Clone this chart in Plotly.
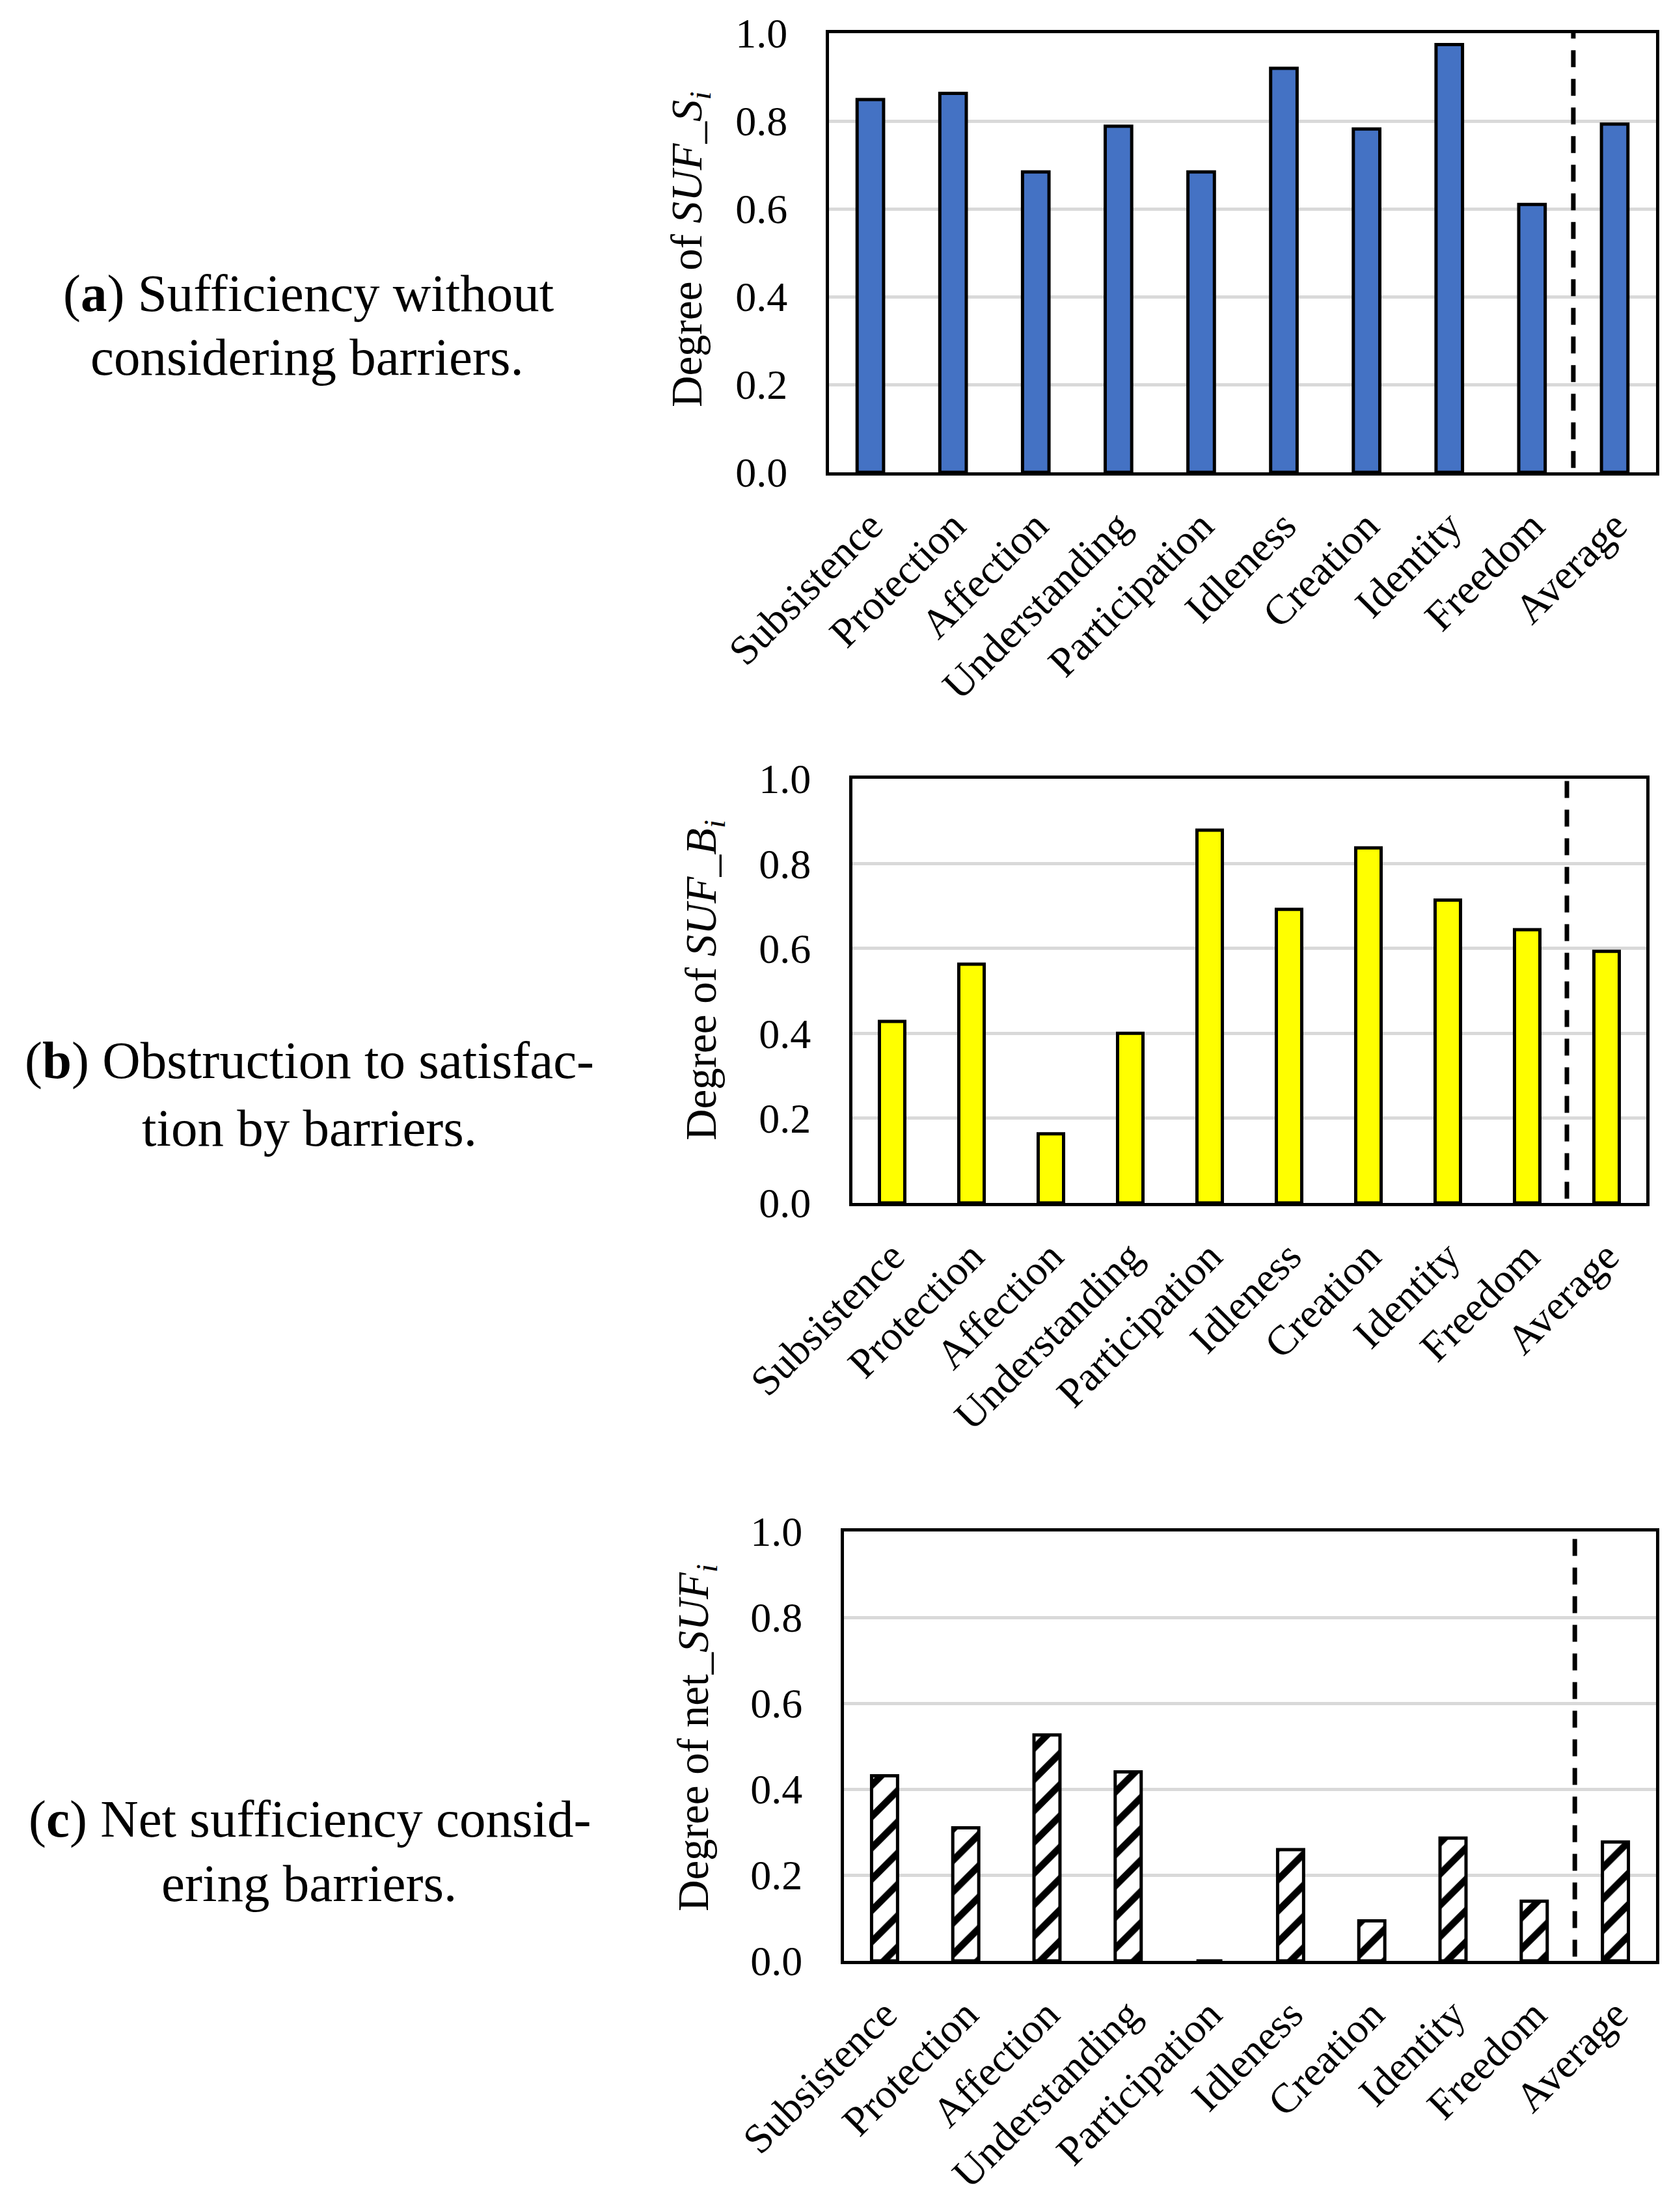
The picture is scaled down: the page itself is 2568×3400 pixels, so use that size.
import plotly.graph_objects as go

categories = ["Subsistence", "Protection", "Affection", "Understanding", "Participation",
              "Idleness", "Creation", "Identity", "Freedom", "Average"]
suf_s = [0.849, 0.863, 0.684, 0.788, 0.684, 0.920, 0.782, 0.974, 0.610, 0.793]
suf_b = [0.428, 0.563, 0.163, 0.400, 0.879, 0.692, 0.837, 0.714, 0.644, 0.593]
net_suf = [0.431, 0.310, 0.526, 0.440, 0.0, 0.259, 0.093, 0.286, 0.139, 0.277]
y_ticks = [0.0, 0.2, 0.4, 0.6, 0.8, 1.0]

FONT = "Liberation Serif"
W, H = 2568, 3400

fig = go.Figure()
fig.add_trace(go.Bar(x=categories, y=suf_s, xaxis="x", yaxis="y", width=0.32,
                     marker=dict(color="#4472C4", line=dict(color="black", width=5))))
fig.add_trace(go.Bar(x=categories, y=suf_b, xaxis="x2", yaxis="y2", width=0.32,
                     marker=dict(color="#FFFF00", line=dict(color="black", width=5))))
fig.add_trace(go.Bar(x=categories, y=net_suf, xaxis="x3", yaxis="y3", width=0.32,
                     marker=dict(color="white", line=dict(color="black", width=5),
                                 pattern=dict(shape="/", fgcolor="black", bgcolor="white",
                                              fgopacity=1, size=34, solidity=0.31))))

def xa(domain, anchor):
    return dict(domain=domain, anchor=anchor, showline=True, mirror=True, linecolor="black",
                linewidth=5, showgrid=False, zeroline=False, ticks="", tickangle=-45,
                automargin=False,
                tickfont=dict(family=FONT, size=64, color="black"), ticklabelstandoff=14,
                categoryorder="array", categoryarray=categories)

def ya(domain, anchor):
    return dict(domain=domain, anchor=anchor, range=[0, 1], tickvals=y_ticks,
                ticktext=["%.1f" % v for v in y_ticks], showline=True, mirror=True,
                linecolor="black", linewidth=5, showgrid=True, gridcolor="#D9D9D9",
                gridwidth=5, zeroline=False, ticks="", ticklabelstandoff=46,
                automargin=False,
                tickfont=dict(family=FONT, size=64, color="black"))

fig.update_layout(
    template="none",
    width=W, height=H, autosize=False, showlegend=False,
    paper_bgcolor="white", plot_bgcolor="white",
    margin=dict(l=0, r=0, t=0, b=0, pad=0),
    font=dict(family=FONT, color="black"),
    xaxis=xa([1266 / W, 2537 / W], "y"),
    yaxis=ya([1 - 718 / H, 1 - 43 / H], "x"),
    xaxis2=xa([1302 / W, 2522 / W], "y2"),
    yaxis2=ya([1 - 1841 / H, 1 - 1189 / H], "x2"),
    xaxis3=xa([1289 / W, 2537 / W], "y3"),
    yaxis3=ya([1 - 3006 / H, 1 - 2346 / H], "x3"),
)

# dashed separators before "Average"
for xr, yr in [("x", "y"), ("x2", "y2"), ("x3", "y3")]:
    fig.add_shape(type="line", xref=xr, yref=yr, x0=8.5, x1=8.5, y0=0.01, y1=1.0,
                  line=dict(color="black", width=7, dash="26px,18px"), layer="above")

titles = [
    ("Degree of <i>SUF_S</i><sub><i>i</i></sub>", 1052, 375),
    ("Degree of <i>SUF_B</i><sub><i>i</i></sub>", 1074, 1499),
    ("Degree of net_<i>SUF</i><sub><i>i</i></sub>", 1062, 2663),
]
for txt, xo, yo in titles:
    fig.add_annotation(text=txt, xref="paper", yref="paper", x=xo / W, y=1 - yo / H,
                       xanchor="center", yanchor="middle", textangle=-90, showarrow=False,
                       font=dict(family=FONT, size=67, color="black"))

captions = [
    ("(<b>a</b>) Sufficiency without", 466, 443),
    ("considering barriers.", 464, 541),
    ("(<b>b</b>) Obstruction to satisfac-", 467, 1622),
    ("tion by barriers.", 467, 1726),
    ("(<b>c</b>) Net sufficiency consid-", 468, 2788),
    ("ering barriers.", 467, 2887),
]
for txt, xo, yo in captions:
    fig.add_annotation(text=txt, xref="paper", yref="paper", x=xo / W, y=1 - yo / H,
                       xanchor="center", yanchor="middle", showarrow=False,
                       font=dict(family=FONT, size=81, color="black"))

fig.write_html("out.html")
